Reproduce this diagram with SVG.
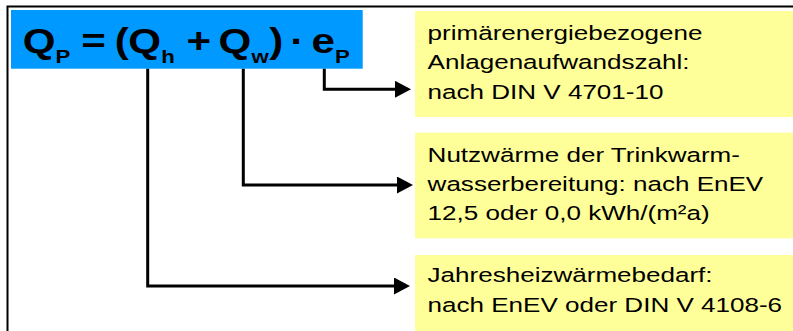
<svg xmlns="http://www.w3.org/2000/svg" width="793" height="331" viewBox="0 0 793 331">
<style>
.formula{font-family:"Liberation Sans",Arial,sans-serif;font-weight:bold;font-size:36px;fill:#000}
.sub{font-size:19px}
.body{font-family:"Liberation Sans",Arial,sans-serif;font-size:20.5px;fill:#000}
.note{fill:#FFFF99}
.conn{fill:none;stroke:#000;stroke-width:3;stroke-linejoin:miter;stroke-linecap:butt}
</style>
<defs>
<marker id="arrow" markerUnits="userSpaceOnUse" markerWidth="16" markerHeight="17" refX="0" refY="8.5" orient="auto">
<path d="M0,0 L16,8.5 L0,17 z" fill="#000"/>
</marker>
</defs>
<rect x="0" y="0" width="793" height="331" fill="#fff"/>
<rect x="7.5" y="6.5" width="800" height="340" fill="none" stroke="#000" stroke-width="2"/>
<g id="formula">
<rect x="11" y="10" width="351.7" height="58.7" fill="#0099FF"/>
<text class="formula" transform="scale(1.17,1)" y="53"><tspan x="19.4">Q</tspan><tspan class="sub" x="47.5" y="63.5">P</tspan><tspan x="69.4" y="53">=</tspan><tspan x="98.1">(</tspan><tspan x="109.7">Q</tspan><tspan class="sub" x="137.9" y="63.5">h</tspan><tspan x="159.5" y="53">+</tspan><tspan x="186.7">Q</tspan><tspan class="sub" x="214.9" y="63.5">w</tspan><tspan x="230.1" y="53">)</tspan><tspan x="248">·</tspan><tspan x="266.2">e</tspan><tspan class="sub" x="286.3" y="63.5">P</tspan></text>
</g>
<g id="note-ep">
<rect class="note" x="415" y="11" width="380" height="106"/>
<text class="body" transform="scale(1.27,1)"><tspan x="336.7" y="40">primärenergiebezogene</tspan><tspan x="336.7" y="69.4">Anlagenaufwandszahl:</tspan><tspan x="336.7" y="98.8">nach DIN V 4701-10</tspan></text>
</g>
<g id="note-qw">
<rect class="note" x="415" y="132.7" width="380" height="105.6"/>
<text class="body" transform="scale(1.27,1)"><tspan x="336.7" y="161.7">Nutzwärme der Trinkwarm-</tspan><tspan x="336.7" y="191">wasserbereitung: nach EnEV</tspan><tspan x="336.7" y="220.3">12,5 oder 0,0 kWh/(m²a)</tspan></text>
</g>
<g id="note-qh">
<rect class="note" x="415" y="255" width="380" height="80"/>
<text class="body" transform="scale(1.27,1)"><tspan x="336.7" y="282.3">Jahresheizwärmebedarf:</tspan><tspan x="336.7" y="311.7">nach EnEV oder DIN V 4108-6</tspan></text>
</g>
<g id="connectors">
<path class="conn" d="M324.3,68.7 V89.3 H395" marker-end="url(#arrow)"/>
<path class="conn" d="M243.3,68.7 V185 H397" marker-end="url(#arrow)"/>
<path class="conn" d="M147.7,68.7 V286 H394" marker-end="url(#arrow)"/>
</g>
</svg>
